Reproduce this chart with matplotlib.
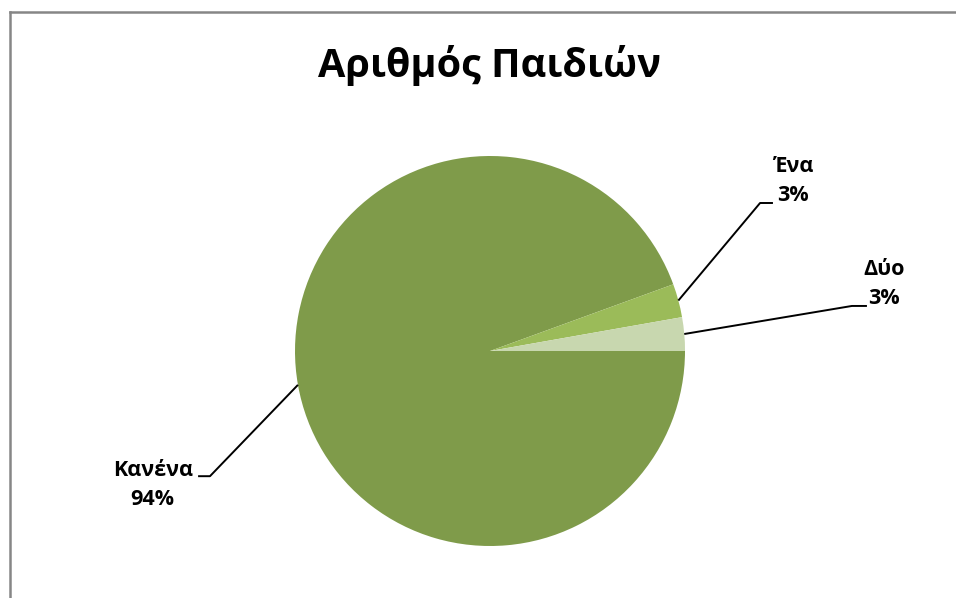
import numpy as np
import matplotlib
matplotlib.use("Agg")
import matplotlib.pyplot as plt
from matplotlib.lines import Line2D

plt.rcParams['font.family'] = ['Open Sans', 'Noto Sans', 'DejaVu Sans']

title = "Αριθμός Παιδιών"
categories = ["Κανένα", "Ένα", "Δύο"]
counts = [34, 1, 1]
colors = ["#7F9B4A", "#9BBB59", "#C8D7AF"]

W, H = 956, 598
fig = plt.figure(figsize=(W / 100, H / 100), dpi=100)
fig.patch.set_facecolor("white")

# axes spanning the whole figure; pie centre at pixel (490, 351), radius 195 px
scale = 195.0
cx, cy = 490.0, 351.0
ax = fig.add_axes([0, 0, 1, 1])

wedges, _ = ax.pie(counts, colors=colors, startangle=0, counterclock=False,
                   radius=1.0, center=(0, 0), wedgeprops=dict(linewidth=0))
ax.set_xlim((0 - cx) / scale, (W - cx) / scale)
ax.set_ylim((cy - H) / scale, cy / scale)
ax.set_aspect("auto")
ax.axis("off")

total = sum(counts)
# label layout (elbow point, end of horizontal, text centre) in pie units
layout = {
    "Κανένα": dict(elbow=(-1.436, -0.642), end=-1.497, text=(-1.73, -0.687)),
    "Ένα": dict(elbow=(1.385, 0.759), end=1.451, text=(1.554, 0.872)),
    "Δύο": dict(elbow=(1.856, 0.231), end=1.933, text=(2.02, 0.344)),
}
for w, cat, n in zip(wedges, categories, counts):
    mid = np.deg2rad((w.theta1 + w.theta2) / 2.0)
    ax0, ay0 = np.cos(mid) * w.r, np.sin(mid) * w.r
    L = layout[cat]
    ex, ey = L["elbow"]
    ax.plot([ax0, ex, L["end"]], [ay0, ey, ey], color="black", lw=1.4,
            solid_capstyle="butt", zorder=3)
    pct = f"{round(100 * n / total):d}%"
    ax.text(L["text"][0], L["text"][1], f"{cat}\n{pct}", ha="center", va="center",
            fontsize=15.5, fontweight="bold", linespacing=1.45, color="black")

fig.text(490 / W, 1 - 65 / H, title, ha="center", va="center",
         fontsize=28.5, fontweight="bold", color="black")

# chart-area border (left and top visible)
fig.add_artist(Line2D([9.5 / W, 9.5 / W], [0, 1 - 12 / H], transform=fig.transFigure,
                      color="#868686", lw=1.8))
fig.add_artist(Line2D([9.5 / W, 1], [1 - 12 / H, 1 - 12 / H], transform=fig.transFigure,
                      color="#868686", lw=1.8))

fig.savefig("out.png", dpi=100, facecolor="white")
